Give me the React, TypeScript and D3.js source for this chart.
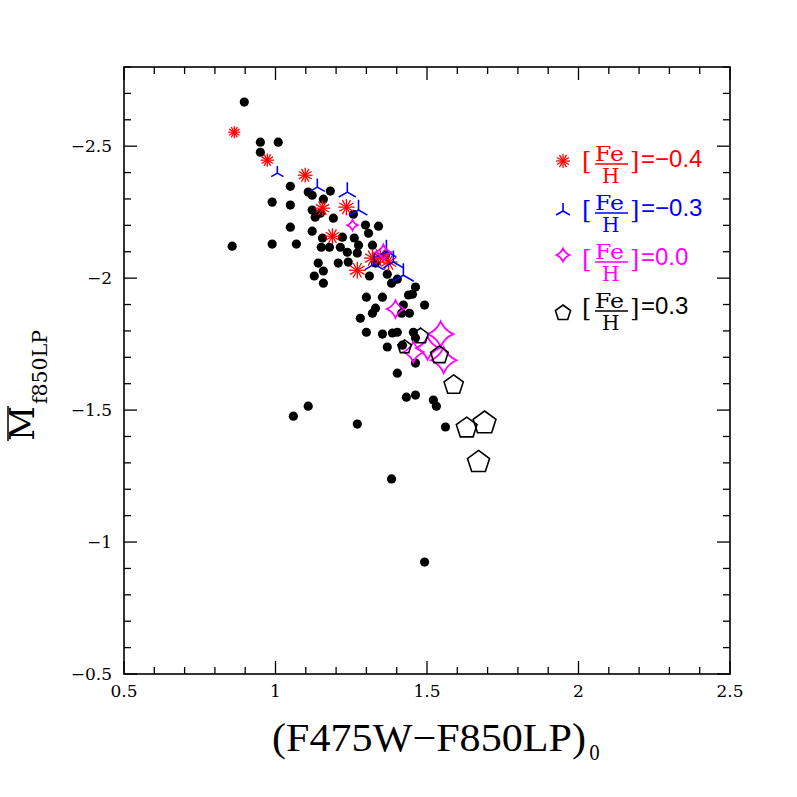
import React from "react";
import * as d3 from "d3";

// ---- data ----
const blackX = [0.897,0.857,0.950,1.009,0.950,1.049,0.989,1.049,1.108,1.121,1.158,1.181,1.121,1.131,1.148,1.191,1.049,1.121,0.989,1.069,1.155,1.151,1.178,1.221,1.214,1.237,1.257,1.260,1.274,1.297,1.340,1.307,1.320,1.270,1.207,1.240,1.141,1.158,1.128,1.158,1.330,1.363,1.310,1.369,1.383,1.402,1.462,1.439,1.452,1.300,1.353,1.422,1.492,1.330,1.320,1.416,1.442,1.280,1.300,1.353,1.386,1.402,1.455,1.462,1.369,1.419,1.462,1.402,1.432,1.462,1.521,1.531,1.561,1.059,1.108,1.270,1.383,1.492];
const blackY = [-2.667,-2.121,-2.515,-2.515,-2.477,-2.348,-2.288,-2.277,-2.326,-2.314,-2.299,-2.330,-2.258,-2.231,-2.246,-2.227,-2.193,-2.178,-2.129,-2.129,-2.152,-2.117,-2.117,-2.155,-2.117,-2.098,-2.242,-2.152,-2.125,-2.201,-2.197,-2.170,-2.125,-2.095,-2.057,-2.061,-2.057,-2.027,-2.008,-1.981,-2.057,-2.087,-2.008,-2.015,-1.981,-1.996,-1.966,-1.936,-1.939,-1.928,-1.928,-1.898,-1.898,-1.886,-1.867,-1.867,-1.867,-1.848,-1.795,-1.788,-1.792,-1.795,-1.795,-1.773,-1.739,-1.746,-1.678,-1.640,-1.549,-1.557,-1.538,-1.515,-1.436,-1.477,-1.515,-1.447,-1.239,-0.924];

const redX = [0.864,0.973,1.098,1.234,1.155,1.188,1.270,1.320,1.373,1.346];
const redY = [-2.553,-2.447,-2.390,-2.269,-2.265,-2.159,-2.030,-2.076,-2.061,-2.080];

const blueX = [1.006,1.138,1.237,1.274,1.326,1.366,1.389,1.422];
const blueY = [-2.398,-2.345,-2.326,-2.258,-2.053,-2.102,-2.061,-2.011];

const magX = [1.254,1.356,1.396,1.455,1.502,1.545,1.555];
const magY = [-2.201,-2.098,-1.883,-1.720,-1.735,-1.788,-1.689];

const pentX = [1.426,1.479,1.541,1.588,1.631,1.690,1.670];
const pentY = [-1.739,-1.780,-1.708,-1.595,-1.432,-1.451,-1.303];

const xTicks = [0.5, 1, 1.5, 2, 2.5];
const xTickLabels = ["0.5", "1", "1.5", "2", "2.5"];
const yTicks = [-2.5, -2, -1.5, -1, -0.5];
const yTickLabels = ["\u22122.5", "\u22122", "\u22121.5", "\u22121", "\u22120.5"];

const legendValues = ["\u22120.4", "\u22120.3", "0.0", "0.3"];
const legendColors = ["#ff0000", "#0000ff", "#ff00ff", "#000000"];

// ---- layout ----
const L = 124, R = 730, T = 67, B = 674;
const x = d3.scaleLinear().domain([0.5, 2.5]).range([L, R]);
const y = d3.scaleLinear().domain([-0.5, -2.8]).range([B, T]);

const rRed = d3.scaleLinear().domain([0.86, 1.38]).range([6, 9]);
const rBlue = d3.scaleLinear().domain([1.0, 1.42]).range([7, 12]);
const rMag = d3.scaleLinear().domain([1.25, 1.56]).range([5, 13]);
const rPent = d3.scaleLinear().domain([1.42, 1.69]).range([7, 12]);

function asterisk(cx: number, cy: number, r: number, color: string, key: string) {
  const lines = [];
  for (let i = 0; i < 6; i++) {
    const a = (Math.PI * i) / 6;
    lines.push(
      <line key={i} x1={cx - r * Math.cos(a)} y1={cy - r * Math.sin(a)} x2={cx + r * Math.cos(a)} y2={cy + r * Math.sin(a)} />
    );
  }
  return <g key={key} stroke={color} strokeWidth={1.3}>{lines}</g>;
}

function tri(cx: number, cy: number, r: number, color: string, key: string) {
  const p = d3.path();
  p.moveTo(cx, cy); p.lineTo(cx, cy - r);
  p.moveTo(cx, cy); p.lineTo(cx - r * 0.866, cy + r * 0.5);
  p.moveTo(cx, cy); p.lineTo(cx + r * 0.866, cy + r * 0.5);
  return <path key={key} d={p.toString()} stroke={color} strokeWidth={1.6} fill="none" />;
}

function star4(cx: number, cy: number, r: number, color: string, key: string) {
  const k = 0.3 * r;
  const p = d3.path();
  p.moveTo(cx, cy - r);
  p.quadraticCurveTo(cx + k, cy - k, cx + r, cy);
  p.quadraticCurveTo(cx + k, cy + k, cx, cy + r);
  p.quadraticCurveTo(cx - k, cy + k, cx - r, cy);
  p.quadraticCurveTo(cx - k, cy - k, cx, cy - r);
  p.closePath();
  return <path key={key} d={p.toString()} stroke={color} strokeWidth={1.8} fill="none" />;
}

function pentagon(cx: number, cy: number, r: number, color: string, key: string) {
  const pts = d3.range(5).map((i) => {
    const a = -Math.PI / 2 + (2 * Math.PI * i) / 5;
    return [cx + r * Math.cos(a), cy + r * Math.sin(a)];
  });
  return <polygon key={key} points={pts.map((q) => q.join(",")).join(" ")} stroke={color} strokeWidth={1.6} fill="none" />;
}

export default function App() {
  const xMinor = d3.range(0.5, 2.5001, 0.1);
  const yMinor = d3.range(-2.8, -0.4999, 0.1);
  const serif = "DejaVu Serif";
  const legendY = [164, 213, 262, 311];
  const markerFns = [
    (cy: number) => asterisk(563, cy - 3, 7, legendColors[0], "la"),
    (cy: number) => tri(563, cy - 2, 8, legendColors[1], "lb"),
    (cy: number) => star4(563, cy - 7, 6.5, legendColors[2], "lc"),
    (cy: number) => pentagon(563, cy + 2, 8, legendColors[3], "ld"),
  ];
  return (
    <svg width={797} height={797} style={{ position: "absolute", left: 0, top: 0, background: "#fff" }}>
      <rect x={0} y={0} width={797} height={797} fill="#fff" />
      {/* ticks */}
      <g stroke="#000" strokeWidth={1.3}>
        {xMinor.map((v, i) => {
          const big = Math.abs(v * 2 - Math.round(v * 2)) < 1e-6;
          const len = big ? 13 : 7;
          return (
            <g key={"xm" + i}>
              <line x1={x(v)} x2={x(v)} y1={B} y2={B - len} />
              <line x1={x(v)} x2={x(v)} y1={T} y2={T + len} />
            </g>
          );
        })}
        {yMinor.map((v, i) => {
          const big = Math.abs(v * 2 - Math.round(v * 2)) < 1e-6;
          const len = big ? 13 : 7;
          return (
            <g key={"ym" + i}>
              <line x1={L} x2={L + len} y1={y(v)} y2={y(v)} />
              <line x1={R} x2={R - len} y1={y(v)} y2={y(v)} />
            </g>
          );
        })}
      </g>
      <rect x={L} y={T} width={R - L} height={B - T} fill="none" stroke="#000" strokeWidth={1.6} />
      {/* tick labels */}
      <g fontFamily={serif} fontSize={17} fill="#000">
        {xTicks.map((v, i) => (
          <text key={"xt" + i} x={x(v)} y={B + 23} textAnchor="middle">{xTickLabels[i]}</text>
        ))}
        {yTicks.map((v, i) => (
          <text key={"yt" + i} x={L - 12} y={y(v) + 6} textAnchor="end">{yTickLabels[i]}</text>
        ))}
      </g>
      {/* axis titles */}
      <text x={272} y={751} fontFamily="Liberation Serif" fontSize={40} textLength={314} lengthAdjust="spacingAndGlyphs">(F475W{"\u2212"}F850LP)</text>
      <text x={589} y={760} fontFamily={serif} fontSize={20} textLength={11} lengthAdjust="spacingAndGlyphs">0</text>
      <g transform="translate(34,441) rotate(-90)">
        <text x={0} y={0} fontFamily={serif} fontSize={34} textLength={35} lengthAdjust="spacingAndGlyphs">M</text>
        <line x1={0} x2={35} y1={-26} y2={-26} stroke="#000" strokeWidth={1.5} />
        <text x={37} y={13} fontFamily={serif} fontSize={20} textLength={74} lengthAdjust="spacingAndGlyphs">f850LP</text>
      </g>
      {/* data */}
      <g fill="#000">
        {blackX.map((v, i) => (
          <circle key={"b" + i} cx={x(v)} cy={y(blackY[i])} r={4.6} />
        ))}
      </g>
      {redX.map((v, i) => asterisk(x(v), y(redY[i]), rRed(v), "#ff0000", "r" + i))}
      {blueX.map((v, i) => tri(x(v), y(blueY[i]), rBlue(v), "#0000ff", "bl" + i))}
      {magX.map((v, i) => star4(x(v), y(magY[i]), rMag(v), "#ff00ff", "m" + i))}
      {pentX.map((v, i) => pentagon(x(v), y(pentY[i]), rPent(v), "#000000", "p" + i))}
      {/* legend */}
      {legendValues.map((val, i) => {
        const ly = legendY[i];
        const c = legendColors[i];
        return (
          <g key={"lg" + i} fill={c}>
            {markerFns[i](ly)}
            <text x={582} y={ly + 5} fontFamily={serif} fontSize={24}>[</text>
            <text x={595} y={ly - 3} fontFamily={serif} fontSize={20} textLength={29} lengthAdjust="spacingAndGlyphs">Fe</text>
            <line x1={595} x2={628} y1={ly} y2={ly} stroke={c} strokeWidth={1.4} />
            <text x={602} y={ly + 19} fontFamily={serif} fontSize={20}>H</text>
            <text x={630} y={ly + 5} fontFamily={serif} fontSize={24}>]</text>
            <text x={641} y={ly + 3} fontFamily="Liberation Sans" fontSize={24}>={val}</text>
          </g>
        );
      })}
    </svg>
  );
}
